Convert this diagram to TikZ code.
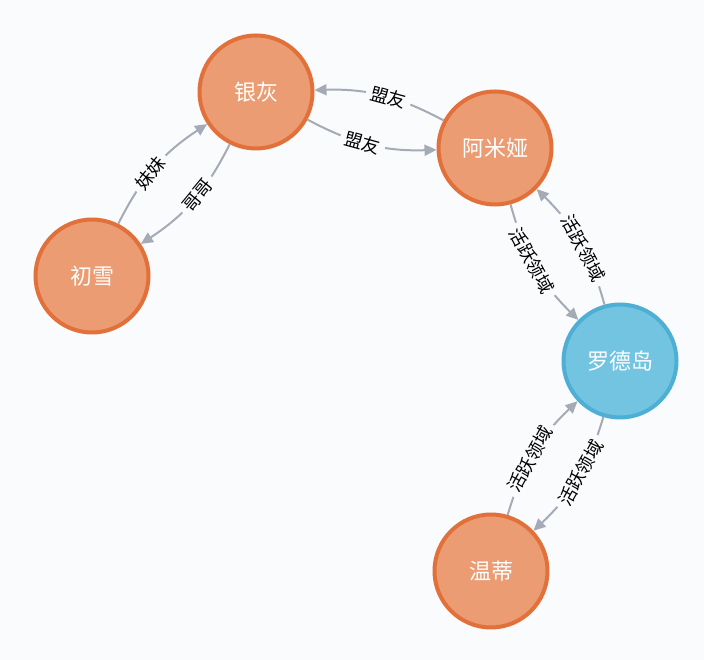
\documentclass[tikz,border=0pt]{standalone}
\usepackage{fontspec}
\setmainfont{Noto Sans CJK SC}
\usetikzlibrary{arrows.meta}
\definecolor{bgcol}{HTML}{F9FBFD}
\definecolor{orfill}{HTML}{EB9C72}
\definecolor{ordraw}{HTML}{E2703A}
\definecolor{blfill}{HTML}{73C4E0}
\definecolor{bldraw}{HTML}{4DAFD5}
\definecolor{edgecol}{HTML}{A5ABB6}
\begin{document}
\begin{tikzpicture}[>={Triangle[length=12pt,width=11pt]},x=1pt,y=1pt,
	person/.style={circle,draw=ordraw,fill=orfill,line width=4pt,minimum size=113pt,inner sep=0pt,text=white,font=\fontsize{22}{24}\selectfont},
	base/.style={person,draw=bldraw,fill=blfill},
	rel/.style={->,draw=edgecol,line width=2pt},
	lab/.style={pos=0.44,sloped,fill=bgcol,inner sep=5pt,text=black,font=\fontsize{18}{20}\selectfont}]
		\fill[bgcol] (0,0) rectangle (704,660);
		\node[person] (yinhui) at (256,568) {银灰};
		\node[person] (amiya) at (495,512) {阿米娅};
		\node[person] (chuxue) at (92,384) {初雪};
		\node[base] (rhodes) at (620,299) {罗德岛};
		\node[person] (wendi) at (491,89) {温蒂};
		\draw[rel] (yinhui) to[bend right=15] node[lab] {盟友} (amiya);
		\draw[rel] (amiya) to[bend right=15] node[lab] {盟友} (yinhui);
		\draw[rel] (chuxue) to[bend left=15] node[lab] {妹妹} (yinhui);
		\draw[rel] (yinhui) to[bend left=15] node[lab] {哥哥} (chuxue);
		\draw[rel] (amiya) to[bend right=15] node[lab] {活跃领域} (rhodes);
		\draw[rel] (rhodes) to[bend right=15] node[lab] {活跃领域} (amiya);
		\draw[rel] (rhodes) to[bend left=15] node[lab] {活跃领域} (wendi);
		\draw[rel] (wendi) to[bend left=15] node[lab] {活跃领域} (rhodes);
\end{tikzpicture}
\end{document}
